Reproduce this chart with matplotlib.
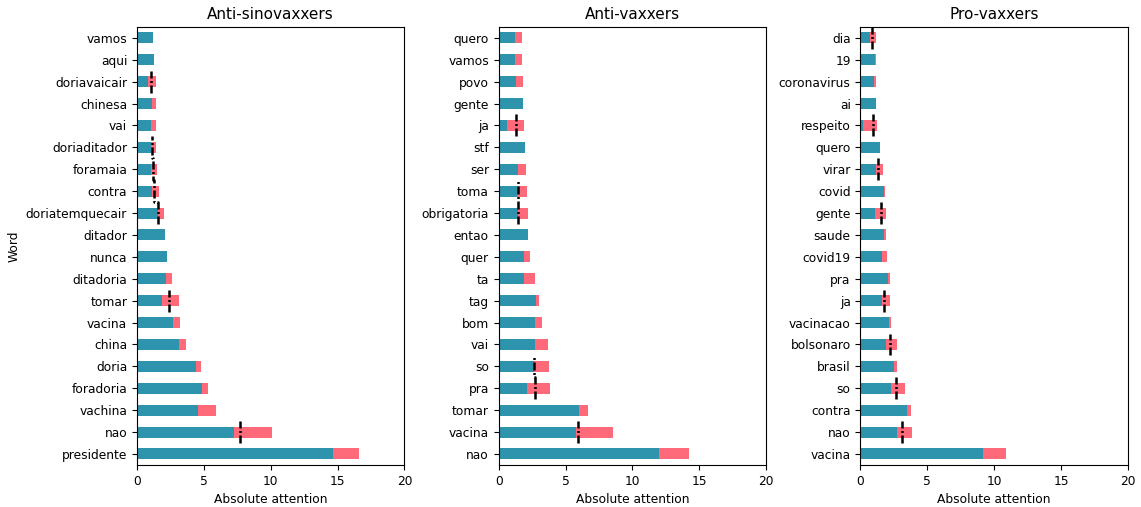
import numpy as np
import matplotlib
matplotlib.use('Agg')
import matplotlib.pyplot as plt

nan = np.nan

# Anti-sinovaxxers (bottom to top)
words_sino = ['presidente', 'nao', 'vachina', 'foradoria', 'doria', 'china', 'vacina',
              'tomar', 'ditadoria', 'nunca', 'ditador', 'doriatemquecair', 'contra',
              'foramaia', 'doriaditador', 'vai', 'chinesa', 'doriavaicair', 'aqui', 'vamos']
base_sino = [14.67, 7.22, 4.6, 4.87, 4.42, 3.12, 2.67, 1.85, 2.2, 2.27, 2.1, 1.55, 1.15,
             1.08, 1.08, 1.08, 1.15, 0.85, 1.25, 1.22]
total_sino = [16.62, 10.1, 5.9, 5.32, 4.82, 3.65, 3.25, 3.17, 2.6, 2.27, 2.1, 2.05, 1.65,
              1.5, 1.45, 1.4, 1.4, 1.4, 1.25, 1.22]
mark_sino = [nan, 7.72, nan, nan, nan, nan, nan, 2.42, nan, nan, nan, 1.57, 1.27,
             1.17, 1.12, nan, nan, 1.05, nan, nan]

# Anti-vaxxers
words_anti = ['nao', 'vacina', 'tomar', 'pra', 'so', 'vai', 'bom', 'tag', 'ta', 'quer',
              'entao', 'obrigatoria', 'toma', 'ser', 'stf', 'ja', 'gente', 'povo', 'vamos', 'quero']
base_anti = [11.97, 5.75, 6.0, 2.14, 2.64, 2.71, 2.74, 2.79, 1.92, 1.92,
             2.19, 1.44, 1.39, 1.44, 1.94, 0.65, 1.84, 1.29, 1.19, 1.24]
total_anti = [14.23, 8.53, 6.69, 3.86, 3.78, 3.68, 3.23, 3.01, 2.71, 2.34,
              2.19, 2.16, 2.14, 2.01, 1.94, 1.87, 1.84, 1.79, 1.77, 1.72]
mark_anti = [nan, 5.9, nan, 2.69, 2.61, nan, nan, nan, nan, nan,
             nan, 1.47, 1.44, nan, nan, 1.27, nan, nan, nan, nan]

# Pro-vaxxers
words_pro = ['vacina', 'nao', 'contra', 'so', 'brasil', 'bolsonaro', 'vacinacao', 'ja', 'pra',
             'covid19', 'saude', 'gente', 'covid', 'virar', 'quero', 'respeito', 'ai',
             'coronavirus', '19', 'dia']
base_pro = [9.19, 2.76, 3.46, 2.27, 2.52, 1.89, 2.12, 1.59, 2.07,
            1.64, 1.74, 1.12, 1.79, 1.15, 1.47, 0.22, 1.17, 1.0, 1.07, 0.75]
total_pro = [10.88, 3.89, 3.79, 3.31, 2.76, 2.76, 2.29, 2.22, 2.22,
             1.99, 1.92, 1.92, 1.84, 1.72, 1.47, 1.22, 1.17, 1.17, 1.15, 1.15]
mark_pro = [nan, 3.11, nan, 2.67, nan, 2.19, nan, 1.77, nan,
            nan, nan, 1.52, nan, 1.35, nan, 0.97, nan, nan, nan, 0.9]

panels = [('Anti-sinovaxxers', words_sino, base_sino, total_sino, mark_sino),
          ('Anti-vaxxers', words_anti, base_anti, total_anti, mark_anti),
          ('Pro-vaxxers', words_pro, base_pro, total_pro, mark_pro)]

fig, axes = plt.subplots(1, 3, figsize=(11.41, 5.07), dpi=100)
plt.subplots_adjust(left=0.12, right=0.9886, top=0.947, bottom=0.083, wspace=0.352)

fs = 8.8
for ax, (title, words, base, total, mark) in zip(axes, panels):
    y = np.arange(len(words))
    base = np.array(base)
    extra = np.array(total) - base
    ax.barh(y, base, height=0.5, color='#2e94ae')
    ax.barh(y, extra, left=base, height=0.5, color='#ff6a7a')
    # dash-dot markers spanning each row
    xs, ys = [], []
    for i, m in enumerate(mark):
        xs += [m, m]
        ys += [i - 0.5, i + 0.5]
    ax.plot(xs, ys, color='black', linestyle=(0, (3.2, 1, 0.8, 1)), linewidth=1.8)
    ax.set_yticks(y)
    ax.set_yticklabels(words, fontsize=fs)
    ax.set_ylim(-0.5, len(words) - 0.5)
    ax.set_xlim(0, 20)
    ax.set_xticks([0, 5, 10, 15, 20])
    ax.tick_params(axis='x', labelsize=fs)
    ax.set_xlabel('Absolute attention', fontsize=fs)
    ax.set_title(title, fontsize=11)

axes[0].set_ylabel('Word', fontsize=fs)

plt.savefig('out.png', dpi=100)
